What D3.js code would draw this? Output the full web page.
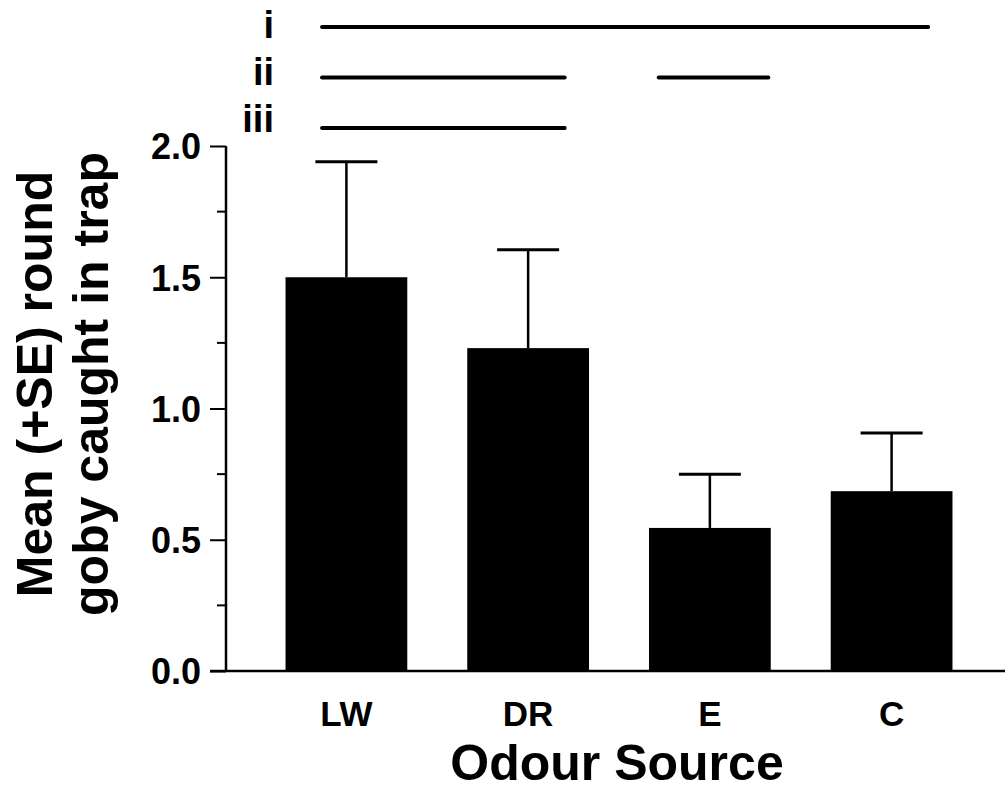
<!DOCTYPE html>
<html lang="en">
  <head>
    <meta charset="utf-8" />
    <script src="https://cdn.jsdelivr.net/npm/d3@7/dist/d3.min.js"></script>
    <title>Odour source</title>
    <style>
      body { margin: 0; background: #fff; }
      text { font-family: "Liberation Sans", Arial, Helvetica, sans-serif; font-weight: bold; fill: #000; }
    </style>
  </head>
  <body>
    <div id="container"></div>

    <script>
      // data
      const categories = ["LW", "DR", "E", "C"];
      const means = [1.5, 1.23, 0.545, 0.685];
      const se = [0.44, 0.375, 0.205, 0.222];
      const yTicks = [0, 0.5, 1.0, 1.5, 2.0];
      const yMinorTicks = [0.25, 0.75, 1.25, 1.75];
      // significance groupings (bars joined by a line are not different)
      const sigLabels = ["i", "ii", "iii"];
      const sigSpans = [
        [["LW", "C"]],
        [["LW", "DR"], ["E", "E"]],
        [["LW", "DR"]]
      ];

      const width = 1005;
      const height = 799;
      const axisX = 226;

      const svg = d3.select("#container").append("svg").attr("width", width).attr("height", height);

      const x = d3.scaleBand().domain(categories).range([231, 1007]).paddingInner(0.33).paddingOuter(0.3);
      const y = d3.scaleLinear().domain([0, 2]).range([671, 146]);
      const bw = x.bandwidth();

      // bars
      svg.append("g")
        .selectAll("rect")
        .data(categories)
        .join("rect")
        .attr("x", (d) => x(d))
        .attr("y", (d, i) => y(means[i]))
        .attr("width", bw)
        .attr("height", (d, i) => y(0) - y(means[i]))
        .attr("fill", "#000");

      // error bars (upper only)
      const eb = svg.append("g").attr("stroke", "#000").attr("fill", "none");
      categories.forEach((c, i) => {
        const cx = x(c) + bw / 2;
        eb.append("line").attr("x1", cx).attr("x2", cx).attr("y1", y(means[i])).attr("y2", y(means[i] + se[i])).attr("stroke-width", 2.5);
        eb.append("line").attr("x1", cx - 31).attr("x2", cx + 31).attr("y1", y(means[i] + se[i])).attr("y2", y(means[i] + se[i])).attr("stroke-width", 3);
      });

      // y axis
      const yAxis = svg.append("g").attr("transform", `translate(${axisX},0)`);
      yAxis.call(d3.axisLeft(y).tickValues(yTicks).tickFormat(d3.format(".1f")).tickSize(16).tickPadding(9));
      yAxis.select(".domain").attr("d", `M0,${y(2)}V${y(0)}`).attr("stroke-width", 2.5);
      yAxis.selectAll(".tick line").attr("stroke-width", 2);
      yAxis.selectAll(".tick text").attr("font-size", 36).attr("dy", "0.36em");
      yAxis.selectAll(".minor")
        .data(yMinorTicks)
        .join("line")
        .attr("class", "minor")
        .attr("x1", -9)
        .attr("x2", 0)
        .attr("y1", (d) => y(d))
        .attr("y2", (d) => y(d))
        .attr("stroke", "#000")
        .attr("stroke-width", 2);

      // x baseline
      svg.append("line").attr("x1", axisX - 16).attr("x2", width).attr("y1", y(0)).attr("y2", y(0)).attr("stroke", "#000").attr("stroke-width", 2.5);

      // x labels
      svg.append("g")
        .selectAll("text")
        .data(categories)
        .join("text")
        .attr("x", (d) => x(d) + bw / 2)
        .attr("y", 726)
        .attr("text-anchor", "middle")
        .attr("font-size", 35)
        .text((d) => d);

      svg.append("text").attr("x", 617).attr("y", 780).attr("text-anchor", "middle").attr("font-size", 50).text("Odour Source");

      // y title
      const yt = svg.append("text").attr("transform", "translate(52,384) rotate(-90)").attr("text-anchor", "middle").attr("font-size", 50);
      yt.append("tspan").attr("x", 0).attr("y", 0).text("Mean (+SE) round");
      yt.append("tspan").attr("x", 0).attr("y", 56).text("goby caught in trap");

      // significance lines
      const rowY = (i) => 27 + i * 50.5;
      sigLabels.forEach((lab, i) => {
        svg.append("text").attr("x", 274).attr("y", 38 + i * 47).attr("text-anchor", "end").attr("font-size", 38).text(lab);
        sigSpans[i].forEach(([a, b]) => {
          const x1 = a === b ? x(a) + bw * 0.08 : x(a) + bw * 0.3;
          const x2 = a === b ? x(b) + bw * 0.98 : x(b) + bw * 0.8;
          svg.append("line")
            .attr("x1", x1)
            .attr("x2", x2)
            .attr("y1", rowY(i))
            .attr("y2", rowY(i))
            .attr("stroke", "#000")
            .attr("stroke-width", 4)
            .attr("stroke-linecap", "round");
        });
      });
    </script>
  </body>
</html>
